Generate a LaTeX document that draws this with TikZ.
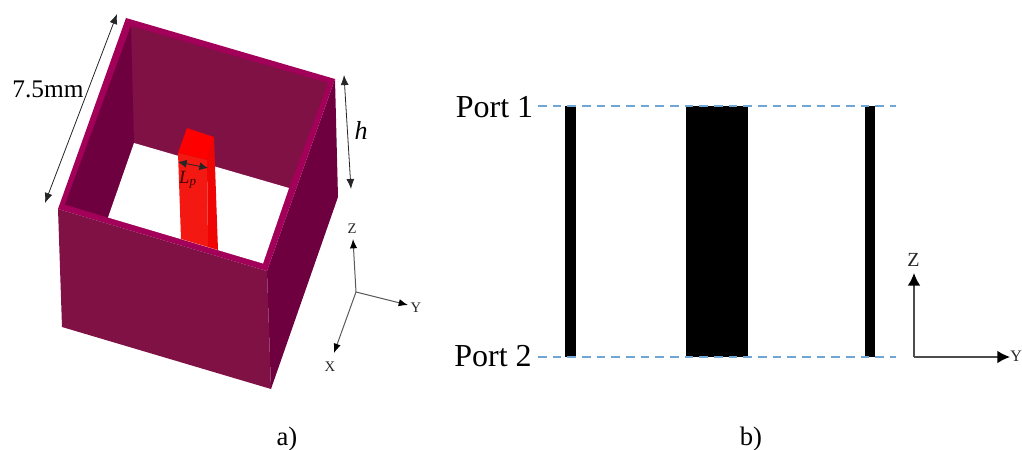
\documentclass[tikz,border=0pt]{standalone}
\usepackage{fontspec}
\setmainfont{Liberation Serif}
\usetikzlibrary{arrows.meta}
\definecolor{wall}{HTML}{7F1145}
\definecolor{walld}{HTML}{6E0040}
\definecolor{rim}{HTML}{A3005A}
\definecolor{redf}{HTML}{F31812}
\definecolor{redt}{HTML}{FF0000}
\definecolor{reds}{HTML}{EE0504}
\definecolor{dashb}{HTML}{6FA6D6}
\tikzset{
  px/.style={x=0.75pt,y=-0.75pt},
  dimline/.style={draw=black!85,line width=0.6pt,{Latex[length=7.5pt,width=6pt]}-{Latex[length=7.5pt,width=6pt]}},
  axa/.style={draw=black!65,line width=0.75pt,-{Latex[length=7pt,width=5.5pt,color=black]}},
  axb/.style={draw=black!70,line width=1.1pt,-{Latex[length=9.5pt,width=9.5pt,color=black]}},
  portline/.style={draw=dashb,line width=1pt,dash pattern=on 6.5pt off 4.5pt},
  lab/.style={font=\fontsize{24pt}{24pt}\selectfont,inner sep=0pt,anchor=base},
  caplab/.style={font=\fontsize{20pt}{20pt}\selectfont,inner sep=0pt,anchor=base},
  axlab/.style={font=\fontsize{11pt}{11pt}\selectfont,inner sep=0pt,text=black!85},
  bar/.style={fill=black,draw=none},
}
\begin{document}
\begin{tikzpicture}[px]
\useasboundingbox (0,0) rectangle (1022,450);
% --- a) box
\coordinate (bl) at (126,18);
\coordinate (br) at (335,79);
\coordinate (ibl) at (131,26);
\coordinate (ibr) at (328,83);
\coordinate (wbl) at (134,143);
\coordinate (wbr) at (289,188);
\coordinate (fl) at (58,209);
\coordinate (fr) at (267,271);
\coordinate (ifl) at (65,204.5);
\coordinate (ifr) at (263,263.5);
\coordinate (wfl) at (108,217.5);
\coordinate (fbl) at (62,327);
\coordinate (fbr) at (271,389);
\coordinate (rb) at (338,197);
% right outer wall
\fill[walld] (br) -- (rb) -- (fbr) -- (fr) -- cycle;
% rim
\fill[rim] (bl) -- (br) -- (fr) -- (fl) -- cycle;
% back wall
\fill[wall] (ibl) -- (ibr) -- (wbr) -- (wbl) -- cycle;
% left inner wall
\fill[walld] (ibl) -- (wbl) -- (wfl) -- (ifl) -- cycle;
% opening
\fill[white] (wbl) -- (wbr) -- (ifr) -- (wfl) -- cycle;
% post
\fill[redt] (187,128) -- (214,137) -- (207,160) -- (178,153) -- cycle;
\fill[reds] (214,137) -- (218,250) -- (208,247) -- (207,160) -- cycle;
\fill[redf] (178,153) -- (207,160) -- (208,247) -- (181,239) -- cycle;
% front wall
\fill[wall] (fl) -- (fr) -- (fbr) -- (fbl) -- cycle;
% --- dimensions
\coordinate (da) at (117,14);
\coordinate (db) at (45,203);
\draw[dimline] (da) -- (db);
\coordinate (dc) at (344,75);
\coordinate (dd) at (351,189);
\draw[dimline] (dc) -- (dd);
\coordinate (de) at (178,162);
\coordinate (df) at (208,168);
\draw[dimline,{Latex[length=6.5pt,width=6pt]}-{Latex[length=6.5pt,width=6pt]}] (de) -- (df);
\node[lab,font=\fontsize{19pt}{19pt}\selectfont] (dimw) at (48,97) {7.5mm};
\node[lab,font=\fontsize{19.5pt}{19.5pt}\selectfont\itshape] (dimh) at (361,139) {h};
\node[lab,font=\fontsize{14pt}{14pt}\selectfont\itshape,text=black!75!red] (dimlp) at (188,183) {L\textsubscript{p}};
% --- axes a
\coordinate (oa) at (356,292);
\coordinate (za) at (353,239);
\coordinate (ya) at (408,305);
\coordinate (xa) at (334,353);
\draw[axa] (oa) -- (za);
\draw[axa] (oa) -- (ya);
\draw[axa] (oa) -- (xa);
\node[axlab] (lza) at (352,229) {Z};
\node[axlab] (lya) at (416,308) {Y};
\node[axlab] (lxa) at (330,367) {X};
% --- b)
\fill[bar] (565,106) rectangle (576,357);
\fill[bar] (686,106) rectangle (748,357);
\fill[bar] (865,106) rectangle (875,357);
\coordinate (p1a) at (538,106);
\coordinate (p1b) at (896,106);
\coordinate (p2a) at (538,357);
\coordinate (p2b) at (896,357);
\draw[portline] (p1a) -- (p1b);
\draw[portline] (p2a) -- (p2b);
\node[lab] (port1) at (494.5,117) {Port 1};
\node[lab] (port2) at (493,366) {Port 2};
% --- axes b
\coordinate (ob) at (914,357);
\coordinate (zb) at (914,273);
\coordinate (yb) at (1010,357);
\draw[axb] (ob) -- (zb);
\draw[axb] (ob) -- (yb);
\node[axlab,font=\fontsize{15pt}{15pt}\selectfont] (lzb) at (913.5,260) {Z};
\node[axlab,font=\fontsize{12pt}{12pt}\selectfont,anchor=west] (lyb) at (1010,356) {Y};
% --- captions
\node[caplab] (capa) at (287,445) {a)};
\node[caplab] (capb) at (751,445) {b)};
\end{tikzpicture}
\end{document}
